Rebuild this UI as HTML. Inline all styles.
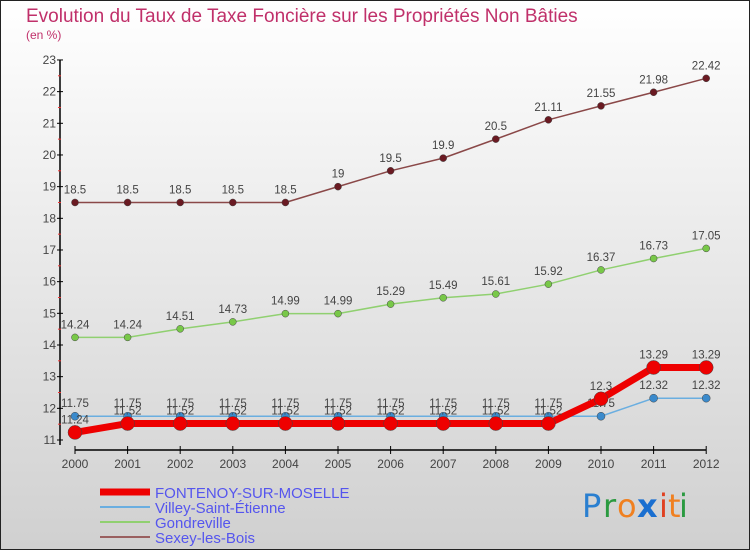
<!DOCTYPE html>
<html><head><meta charset="utf-8"><style>
html,body{margin:0;padding:0}
body{width:750px;height:550px;overflow:hidden;font-family:"Liberation Sans",sans-serif}
</style></head><body>
<svg id="chart" width="750" height="550" xmlns="http://www.w3.org/2000/svg">
<defs><linearGradient id="bg" x1="0" y1="0" x2="0" y2="1"><stop offset="0" stop-color="#ffffff"/><stop offset="1" stop-color="#d0d0d0"/></linearGradient></defs>
<rect x="0.5" y="0.5" width="749" height="549" fill="url(#bg)" stroke="#222"/>
<text x="26" y="22" font-size="19" fill="#c0306a">Evolution du Taux de Taxe Foncière sur les Propriétés Non Bâties</text>
<text x="26" y="39" font-size="12" fill="#c0306a">(en %)</text>
<g id="axes"></g><g id="series"></g><g id="legend"></g>
<g font-size="32" font-family="'DejaVu Sans',sans-serif">
<text x="582" y="517" fill="#2a7fd0">P</text><text x="603" y="517" fill="#2a9a40">r</text><text x="617" y="517" fill="#f08020">o</text><text x="637" y="517" fill="#1a6fd0" font-weight="bold">x</text><text x="659" y="517" fill="#e04020">i</text><text x="668" y="517" fill="#f08020">t</text><text x="679" y="517" fill="#2a9a40">i</text>
</g>
</svg>
<script>
const years=["2000","2001","2002","2003","2004","2005","2006","2007","2008","2009","2010","2011","2012"];
const yTicks=[11,12,13,14,15,16,17,18,19,20,21,22,23];
const fontenoy=[11.24,11.52,11.52,11.52,11.52,11.52,11.52,11.52,11.52,11.52,12.3,13.29,13.29];
const villey=[11.75,11.75,11.75,11.75,11.75,11.75,11.75,11.75,11.75,11.75,11.75,12.32,12.32];
const gondreville=[14.24,14.24,14.51,14.73,14.99,14.99,15.29,15.49,15.61,15.92,16.37,16.73,17.05];
const sexey=[18.5,18.5,18.5,18.5,18.5,19,19.5,19.9,20.5,21.11,21.55,21.98,22.42];
const names=["FONTENOY-SUR-MOSELLE","Villey-Saint-Étienne","Gondreville","Sexey-les-Bois"];
const NS="http://www.w3.org/2000/svg";
const X=i=>75+i*52.6;
const Y=v=>440-(v-11)*31.67;
function mk(p,tag,attrs){const e=document.createElementNS(NS,tag);for(const k in attrs)e.setAttribute(k,attrs[k]);p.appendChild(e);return e;}
const ax=document.getElementById('axes');
const yl=mk(ax,'line',{x1:60,y1:Y(23),x2:60,y2:445,stroke:'#000','stroke-width':1.5});


const xl=mk(ax,'line',{x1:X(0),y1:450,x2:X(12),y2:450,stroke:'#000','stroke-width':1.5});


yTicks.forEach((t,i)=>{
  mk(ax,'line',{x1:57,y1:Y(t),x2:63,y2:Y(t),stroke:'#000'});
  if(i<yTicks.length-1)mk(ax,'line',{x1:58,y1:Y(t+0.5),x2:61,y2:Y(t+0.5),stroke:'#e33'});
  const tx=mk(ax,'text',{x:56,y:Y(t)+4,'font-size':12,fill:'#444','text-anchor':'end'});
  tx.textContent=t;
  
  
});
years.forEach((y,i)=>{
  mk(ax,'line',{x1:X(i),y1:446,x2:X(i),y2:454,stroke:'#000'});
  const tx=mk(ax,'text',{x:X(i),y:468,'font-size':12,fill:'#444','text-anchor':'middle'});
  tx.textContent=y;
  
  
});
const sg=document.getElementById('series');
function series(vals,color,lw,r,dot,name){
  const g=mk(sg,'g',{});
  
  
  mk(g,'polyline',{points:vals.map((v,i)=>X(i)+','+Y(v)).join(' '),fill:'none',stroke:color,'stroke-width':lw,'stroke-linejoin':'round'});
  vals.forEach((v,i)=>{
    const c=mk(g,'circle',{cx:X(i),cy:Y(v),r:r,fill:dot,stroke:'#444','stroke-width':0.5});
    
    
    const t=mk(g,'text',{x:X(i),y:Y(v)-9,'font-size':11.5,fill:'#444','text-anchor':'middle'});
    t.textContent=String(v);
    
    
  });
}
series(sexey,'#8a4848',1.5,3.5,'#6a1a22','series-sexey-les-bois');
series(gondreville,'#90d070',1.5,3.5,'#78c848','series-gondreville');
series(villey,'#6aaee0',1.5,4,'#3a8acc','series-villey-saint-etienne');
series(fontenoy,'#ee0000',7,7,'#ee0000','series-fontenoy-sur-moselle');
const lg=document.getElementById('legend');
const lc=['#ee0000','#6aaee0','#90d070','#9a6060'];const lw=[7,2,2,2];
names.forEach((n,i)=>{
  const y=492+i*15;
  const g=mk(lg,'g',{});
  
  
  mk(g,'line',{x1:100,y1:y,x2:150,y2:y,stroke:lc[i],'stroke-width':lw[i]});
  const t=mk(g,'text',{x:155,y:y+6,'font-size':15,fill:'#5555ee'});
  t.textContent=n;
});
</script>
</body></html>
